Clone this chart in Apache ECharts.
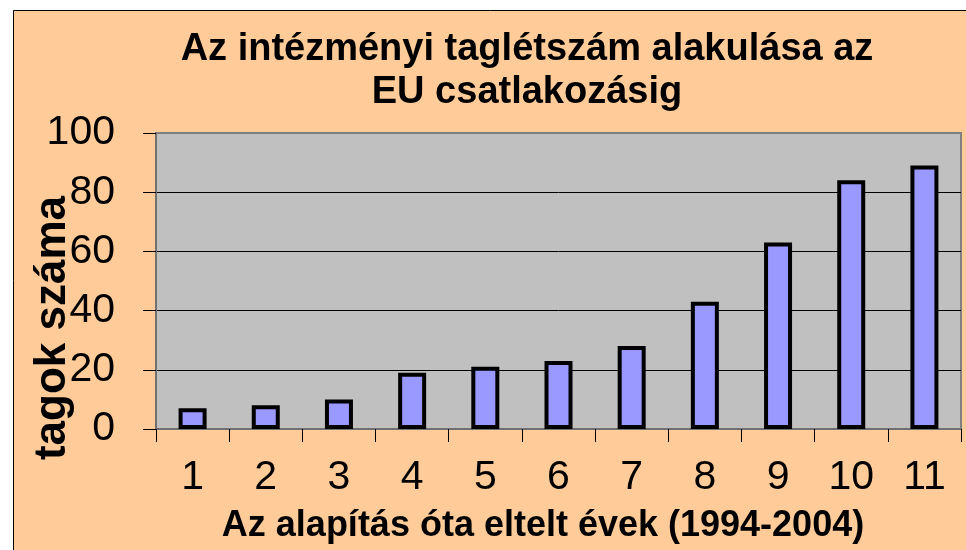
<!DOCTYPE html>
<html>
<head>
<meta charset="utf-8">
<script src="https://cdn.jsdelivr.net/npm/echarts@6/dist/echarts.min.js"></script>
<style>
  html, body { margin: 0; padding: 0; background: #ffffff; }
  #chart { width: 966px; height: 550px; }
</style>
</head>
<body>
<div id="chart"></div>
<script>
const titleLines = ['Az intézményi taglétszám alakulása az', 'EU csatlakozásig'];
const xAxisTitle = 'Az alapítás óta eltelt évek (1994-2004)';
const yAxisTitle = 'tagok száma';
const categories = ['1', '2', '3', '4', '5', '6', '7', '8', '9', '10', '11'];
const members = [7, 8, 10, 19, 21, 23, 28, 43, 63, 84, 89];
const yTicks = [0, 20, 40, 60, 80, 100];

const FONT = '"Liberation Sans", Arial, sans-serif';
const chart = echarts.init(document.getElementById('chart'));

chart.setOption({
  backgroundColor: '#ffffff',
  animation: false,
  title: [
    {
      text: titleLines.join('\n'),
      left: 522,
      top: 23,
      textAlign: 'center',
      textStyle: { fontFamily: FONT, fontWeight: 'bold', fontSize: 38, color: '#000', lineHeight: 43 }
    },
    {
      text: xAxisTitle,
      left: 538,
      top: 503,
      textAlign: 'center',
      textStyle: { fontFamily: FONT, fontWeight: 'bold', fontSize: 36, color: '#000' }
    }
  ],
  graphic: [
    {
      type: 'rect',
      z: -100,
      silent: true,
      shape: { x: 13.5, y: 10.5, width: 1100, height: 700 },
      style: { fill: '#FFCC99', stroke: '#000', lineWidth: 1 }
    },
    {
      type: 'text',
      z: 100,
      x: 53,
      y: 328,
      rotation: Math.PI / 2,
      style: {
        text: yAxisTitle,
        font: 'bold 44px ' + FONT,
        fill: '#000',
        textAlign: 'center',
        textVerticalAlign: 'middle'
      }
    }
  ],
  grid: {
    left: 156, top: 133, right: 5, bottom: 121,
    show: true,
    backgroundColor: '#C0C0C0',
    borderColor: '#808080',
    borderWidth: 2
  },
  xAxis: {
    type: 'category',
    data: categories,
    boundaryGap: true,
    axisLine: { show: true, lineStyle: { color: '#707070', width: 2 } },
    axisTick: { show: true, length: 13, lineStyle: { color: '#000', width: 1 } },
    axisLabel: { margin: 28, fontFamily: FONT, fontSize: 41, color: '#000' },
    splitLine: { show: false }
  },
  yAxis: {
    type: 'value',
    min: yTicks[0],
    max: yTicks[yTicks.length - 1],
    interval: yTicks[1] - yTicks[0],
    axisLine: { show: true, lineStyle: { color: '#707070', width: 2 } },
    axisTick: { show: true, length: 13, lineStyle: { color: '#000', width: 1 } },
    axisLabel: { margin: 41, fontFamily: FONT, fontSize: 41, color: '#000' },
    splitLine: { show: true, lineStyle: { color: ['#000', '#000', '#000', '#000', '#000', '#808080'], width: 1 } }
  },
  series: [{
    type: 'bar',
    data: members,
    barWidth: 28,
    itemStyle: { color: '#9999FF', borderColor: '#000', borderWidth: 4 }
  }]
});
</script>
</body>
</html>
